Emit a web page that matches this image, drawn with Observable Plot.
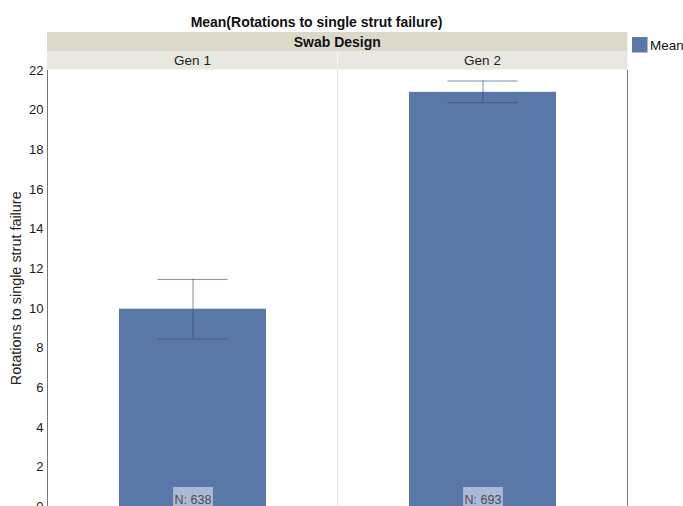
<!DOCTYPE html>
<html><head><meta charset="utf-8">
<script src="https://cdn.jsdelivr.net/npm/d3@7"></script>
<script src="https://cdn.jsdelivr.net/npm/@observablehq/plot@0.6"></script>
<style>
body{margin:0;background:#fff;font-family:"Liberation Sans",Arial,Helvetica,sans-serif;overflow:hidden}
#chart svg{display:block}
</style>
</head><body><div id="chart"></div>
<script>
// ---- data ----
const categories = ["Gen 1", "Gen 2"];
const means = [9.97, 20.9];
const lowerErr = [8.46, 20.38];
const upperErr = [11.47, 21.47];
const counts = [638, 693];
const yTicks = [0, 2, 4, 6, 8, 10, 12, 14, 16, 18, 20, 22];
const title = "Mean(Rotations to single strut failure)";
const facetTitle = "Swab Design";
const yLabel = "Rotations to single strut failure";
const legendLabel = "Mean";

const data = categories.map((c, i) => ({gen: c, mean: means[i], lo: lowerErr[i], hi: upperErr[i], n: counts[i]}));

const W = 683, H = 530, mL = 47, mR = 55.5, mT = 70, mB = 23.5;
const barColor = "#5a78a7";
const errColor = "#2c4470";

const plot = Plot.plot({
  width: W, height: H,
  marginLeft: mL, marginRight: mR, marginTop: mT, marginBottom: mB,
  style: {fontFamily: '"Liberation Sans", Arial, sans-serif', fontSize: "13px", color: "#222", background: "#fff", overflow: "visible"},
  x: {domain: categories, paddingInner: 0.493, paddingOuter: 0.2465, axis: null},
  y: {domain: [0, 22], axis: null},
  marks: [
    Plot.barY(data, {x: "gen", y: "mean", fill: barColor}),
    Plot.ruleX(data, {x: "gen", y1: "lo", y2: "hi", stroke: errColor, strokeOpacity: 0.6, strokeWidth: 1}),
    Plot.tickY(data, {x: "gen", y: "lo", stroke: errColor, strokeOpacity: 0.6, insetLeft: 38.5, insetRight: 38.5}),
    Plot.tickY(data, {x: "gen", y: "hi", stroke: errColor, strokeOpacity: 0.6, insetLeft: 38.5, insetRight: 38.5}),
    Plot.text(data, {x: "gen", y: 0, text: d => "N: " + d.n, fill: "#4d4d4d", fontSize: 12.5, lineAnchor: "bottom", dy: -3}),
    Plot.axisY({ticks: yTicks, tickSize: 0, tickPadding: 4, fontSize: 13, label: null, fill: "#1a1a1a"})
  ]
});

document.getElementById("chart").appendChild(plot);

const svg = d3.select(plot);
const xs = plot.scale("x");
const pLeft = mL, pRight = W - mR;
const pTop = mT, pBottom = H - mB;
const bw = xs.bandwidth !== undefined ? xs.bandwidth : 0;

// N label backgrounds (copy each text's own transform so the box sits under it)
svg.selectAll("text").filter(function(){ return this.textContent.startsWith("N:"); }).each(function(){
  const b = this.getBBox();
  const tr = this.getAttribute("transform");
  const r = d3.select(this.parentNode).insert("rect", () => this)
    .attr("x", b.x - 1.5).attr("y", b.y - 6).attr("width", b.width + 3).attr("height", b.height + 10)
    .attr("fill", "#aab9d5");
  if (tr) r.attr("transform", tr);
});

const deco = svg.append("g").attr("text-anchor", "start");
// divider between facets
const midX = (xs.apply(categories[0]) + xs.apply(categories[1]) + bw) / 2;
deco.append("line").attr("x1", midX).attr("x2", midX).attr("y1", pTop).attr("y2", pBottom).attr("stroke", "#e4e4e4");
// axis lines
deco.append("line").attr("x1", pLeft + 0.5).attr("x2", pLeft + 0.5).attr("y1", pTop).attr("y2", pBottom).attr("stroke", "#777");
deco.append("line").attr("x1", pRight).attr("x2", pRight).attr("y1", pTop).attr("y2", pBottom).attr("stroke", "#777");

// header bands
deco.append("rect").attr("x", pLeft).attr("y", 32).attr("width", pRight - pLeft).attr("height", 19).attr("fill", "#dcd9cb");
deco.append("rect").attr("x", pLeft).attr("y", 51).attr("width", pRight - pLeft).attr("height", 18.5).attr("fill", "#e8e7e0");
deco.append("line").attr("x1", midX).attr("x2", midX).attr("y1", 51).attr("y2", 69.5).attr("stroke", "#f6f5f1");

deco.append("text").attr("x", (pLeft + pRight) / 2).attr("y", 46.5).attr("text-anchor", "middle")
  .attr("font-weight", "bold").attr("font-size", 14).attr("fill", "#111").text(facetTitle);
categories.forEach(c => {
  deco.append("text").attr("x", xs.apply(c) + bw / 2).attr("y", 65).attr("text-anchor", "middle")
    .attr("font-size", 13.5).attr("fill", "#222").text(c);
});

// title
const t = deco.append("text").attr("x", 316.5).attr("y", 27).attr("text-anchor", "middle")
  .attr("font-weight", "bold").attr("font-size", 13).attr("fill", "#111").text(title);
const tl = t.node().getComputedTextLength();
if (tl > 0) t.attr("font-size", 13 * 252 / tl);

// y label
const yl = deco.append("text").attr("transform", `translate(21,${(pTop + pBottom) / 2}) rotate(-90)`)
  .attr("text-anchor", "middle").attr("font-size", 13).attr("fill", "#222").text(yLabel);
const yll = yl.node().getComputedTextLength();
if (yll > 0) yl.attr("font-size", 13 * 194 / yll);

// legend
deco.append("rect").attr("x", 632).attr("y", 37).attr("width", 15.5).attr("height", 15.5).attr("fill", barColor);
deco.append("text").attr("x", 650).attr("y", 50).attr("text-anchor", "start").attr("font-size", 13.5).attr("fill", "#111").text(legendLabel);
</script>
</body></html>
